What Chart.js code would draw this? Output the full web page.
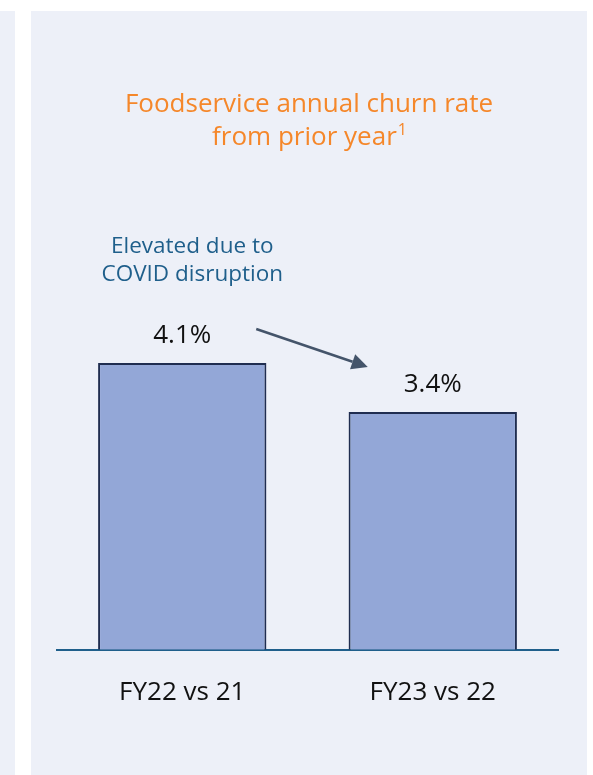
<!DOCTYPE html>
<html>
<head>
<meta charset="utf-8">
<script src="https://cdn.jsdelivr.net/npm/chart.js@4.4.1/dist/chart.umd.min.js"></script>
<style>
html,body{margin:0;padding:0;background:#ffffff;}
#wrap{position:relative;width:593px;height:775px;}
canvas{display:block;}
</style>
</head>
<body>
<div id="wrap"><canvas id="c" width="593" height="775"></canvas></div>
<script>
const categories = ["FY22 vs 21", "FY23 vs 22"];
const churnRate = [4.1, 3.4];
const valueLabels = ["4.1%", "3.4%"];
const titleLines = ["Foodservice annual churn rate", "from prior year"];
const titleSup = "1";
const noteLines = ["Elevated due to", "COVID disruption"];

const FONT = "'Open Sans', 'Noto Sans', sans-serif";
const PANEL = "#edf0f8";

const bgPlugin = {
  id: "bg",
  beforeDraw(chart) {
    const ctx = chart.ctx;
    ctx.save();
    ctx.fillStyle = "#ffffff";
    ctx.fillRect(0, 0, chart.width, chart.height);
    ctx.fillStyle = PANEL;
    ctx.fillRect(0, 11, 15, chart.height - 11);
    ctx.fillRect(31, 11, 556, chart.height - 11);
    ctx.restore();
  }
};

const overlayPlugin = {
  id: "overlay",
  afterDatasetsDraw(chart) {
    const ctx = chart.ctx;
    const xs = chart.scales.x, ys = chart.scales.y;
    ctx.save();
    // title
    ctx.fillStyle = "#f5872a";
    ctx.textBaseline = "middle";
    const cx = 309;
    ctx.textAlign = "center";
    ctx.font = "26px " + FONT;
    ctx.fillText(titleLines[0], cx, 105);
    const w2 = ctx.measureText(titleLines[1]).width;
    ctx.font = "16px " + FONT;
    const ws = ctx.measureText(titleSup).width;
    const lx = cx - (w2 + ws) / 2;
    ctx.textAlign = "left";
    ctx.font = "26px " + FONT;
    ctx.fillText(titleLines[1], lx, 138);
    ctx.font = "16px " + FONT;
    ctx.fillText(titleSup, lx + w2 + 1, 130);

    // value labels
    ctx.textAlign = "center";
    ctx.fillStyle = "#111111";
    ctx.font = "26px " + FONT;
    churnRate.forEach((v, i) => {
      const x = xs.getPixelForValue(i);
      const y = ys.getPixelForValue(v);
      ctx.fillText(valueLabels[i], x, y - 27);
    });

    // note
    const x0 = xs.getPixelForValue(0);
    const yTop0 = ys.getPixelForValue(churnRate[0]);
    ctx.fillStyle = "#1f5f8b";
    ctx.font = "22.5px " + FONT;
    ctx.fillText(noteLines[0], x0 + 10, yTop0 - 116);
    ctx.fillText(noteLines[1], x0 + 10, yTop0 - 88);

    // arrow
    const x1 = xs.getPixelForValue(1);
    const yTop1 = ys.getPixelForValue(churnRate[1]);
    const sx = x0 + 74, sy = yTop0 - 34;
    const ex = x1 - 65, ey = yTop1 - 45;
    const ang = Math.atan2(ey - sy, ex - sx);
    const hl = 16, hw = 8;
    const bx = ex - hl * Math.cos(ang), by = ey - hl * Math.sin(ang);
    ctx.strokeStyle = "#44546a";
    ctx.fillStyle = "#44546a";
    ctx.lineWidth = 2.5;
    ctx.beginPath();
    ctx.moveTo(sx, sy);
    ctx.lineTo(bx, by);
    ctx.stroke();
    ctx.beginPath();
    ctx.moveTo(ex, ey);
    ctx.lineTo(bx + hw * Math.sin(ang), by - hw * Math.cos(ang));
    ctx.lineTo(bx - hw * Math.sin(ang), by + hw * Math.cos(ang));
    ctx.closePath();
    ctx.fill();
    ctx.restore();
  }
};

new Chart(document.getElementById("c"), {
  type: "bar",
  data: {
    labels: categories,
    datasets: [{
      data: churnRate,
      backgroundColor: "#93a7d7",
      borderColor: "#1f2d50",
      borderWidth: 2,
      borderSkipped: "bottom",
      barPercentage: 0.672,
      categoryPercentage: 1.0
    }]
  },
  options: {
    responsive: false,
    animation: false,
    devicePixelRatio: 1,
    layout: { padding: { left: 57, right: 35, top: 300, bottom: 40 } },
    plugins: { legend: { display: false }, tooltip: { enabled: false }, title: { display: false } },
    scales: {
      x: {
        grid: { display: false, drawTicks: false },
        border: { display: true, color: "#1f5f8b", width: 2 },
        ticks: { color: "#111111", font: { family: FONT, size: 26 }, padding: 27 }
      },
      y: {
        display: false,
        min: 0,
        max: 5
      }
    }
  },
  plugins: [bgPlugin, overlayPlugin]
});
</script>
</body>
</html>
